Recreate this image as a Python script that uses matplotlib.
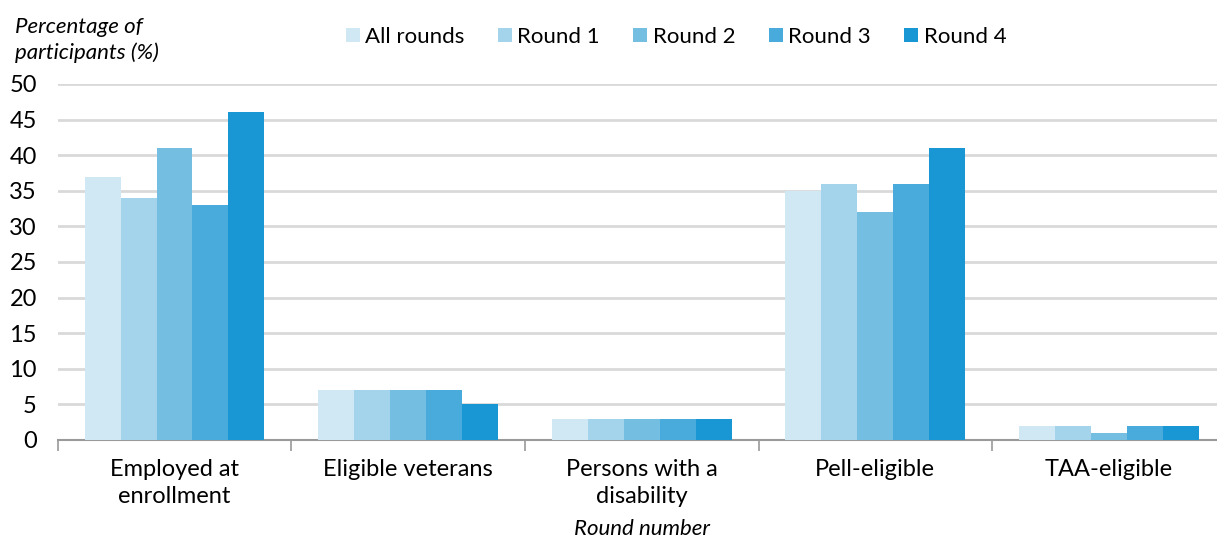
import numpy as np
import matplotlib.pyplot as plt

plt.rcParams['font.family'] = ['Lato', 'DejaVu Sans']

# data ----------------------------------
categories = ['Employed at\nenrollment', 'Eligible veterans', 'Persons with a\ndisability',
              'Pell-eligible', 'TAA-eligible']
series = ['All rounds', 'Round 1', 'Round 2', 'Round 3', 'Round 4']
all_rounds = [37, 7, 3, 35, 2]
round_1 = [34, 7, 3, 36, 2]
round_2 = [41, 7, 3, 32, 1]
round_3 = [33, 7, 3, 36, 2]
round_4 = [46, 5, 3, 41, 2]
y_ticks = [0, 5, 10, 15, 20, 25, 30, 35, 40, 45, 50]

colors = ['#d0e7f4', '#a3d4ec', '#74bee2', '#48abdb', '#1997d4']

# figure ----------------------------------
fig = plt.figure(figsize=(12.17, 5.39), dpi=100)
ax = fig.add_axes([57.7 / 1217, 99 / 539, 1168 / 1217, 356 / 539])

x = np.arange(len(categories))
w = 0.154
values = [all_rounds, round_1, round_2, round_3, round_4]
for i, (name, vals) in enumerate(zip(series, values)):
    ax.bar(x + (i - 2) * w, vals, width=w, color=colors[i], label=name, zorder=3)

ax.set_xlim(-0.5, len(categories) - 0.5)
ax.set_ylim(0, 50)
ax.set_yticks(y_ticks)
ax.yaxis.grid(True, color='#d9d9d9', linewidth=2, zorder=0)
ax.tick_params(axis='y', length=0, pad=15, labelsize=17)

ax.set_xticks(x)
ax.set_xticklabels(categories, fontsize=17, linespacing=1.32)
ax.set_xticks(np.arange(len(categories)) - 0.5, minor=True)
ax.tick_params(axis='x', which='major', length=0, pad=14)
ax.tick_params(axis='x', which='minor', length=8, width=1.2, color='#9a9a9a')

for s in ['top', 'right', 'left']:
    ax.spines[s].set_visible(False)
ax.spines['bottom'].set_color('#9a9a9a')
ax.spines['bottom'].set_linewidth(1.5)

ax.set_xlabel('Round number', fontsize=16, style='italic')
ax.xaxis.set_label_coords(0.5, (539 - 519 - 99) / 356)

fig.text(15 / 1217, 1 - 17 / 539, 'Percentage of\nparticipants (%)', fontsize=16,
         style='italic', ha='left', va='top', linespacing=1.3)

fig.legend(loc='center', bbox_to_anchor=(676 / 1217, 1 - 37 / 539), ncol=5, frameon=False,
           fontsize=16, handlelength=0.63, handleheight=0.63, handletextpad=0.25,
           columnspacing=1.5)

fig.savefig('out.png', dpi=100)
